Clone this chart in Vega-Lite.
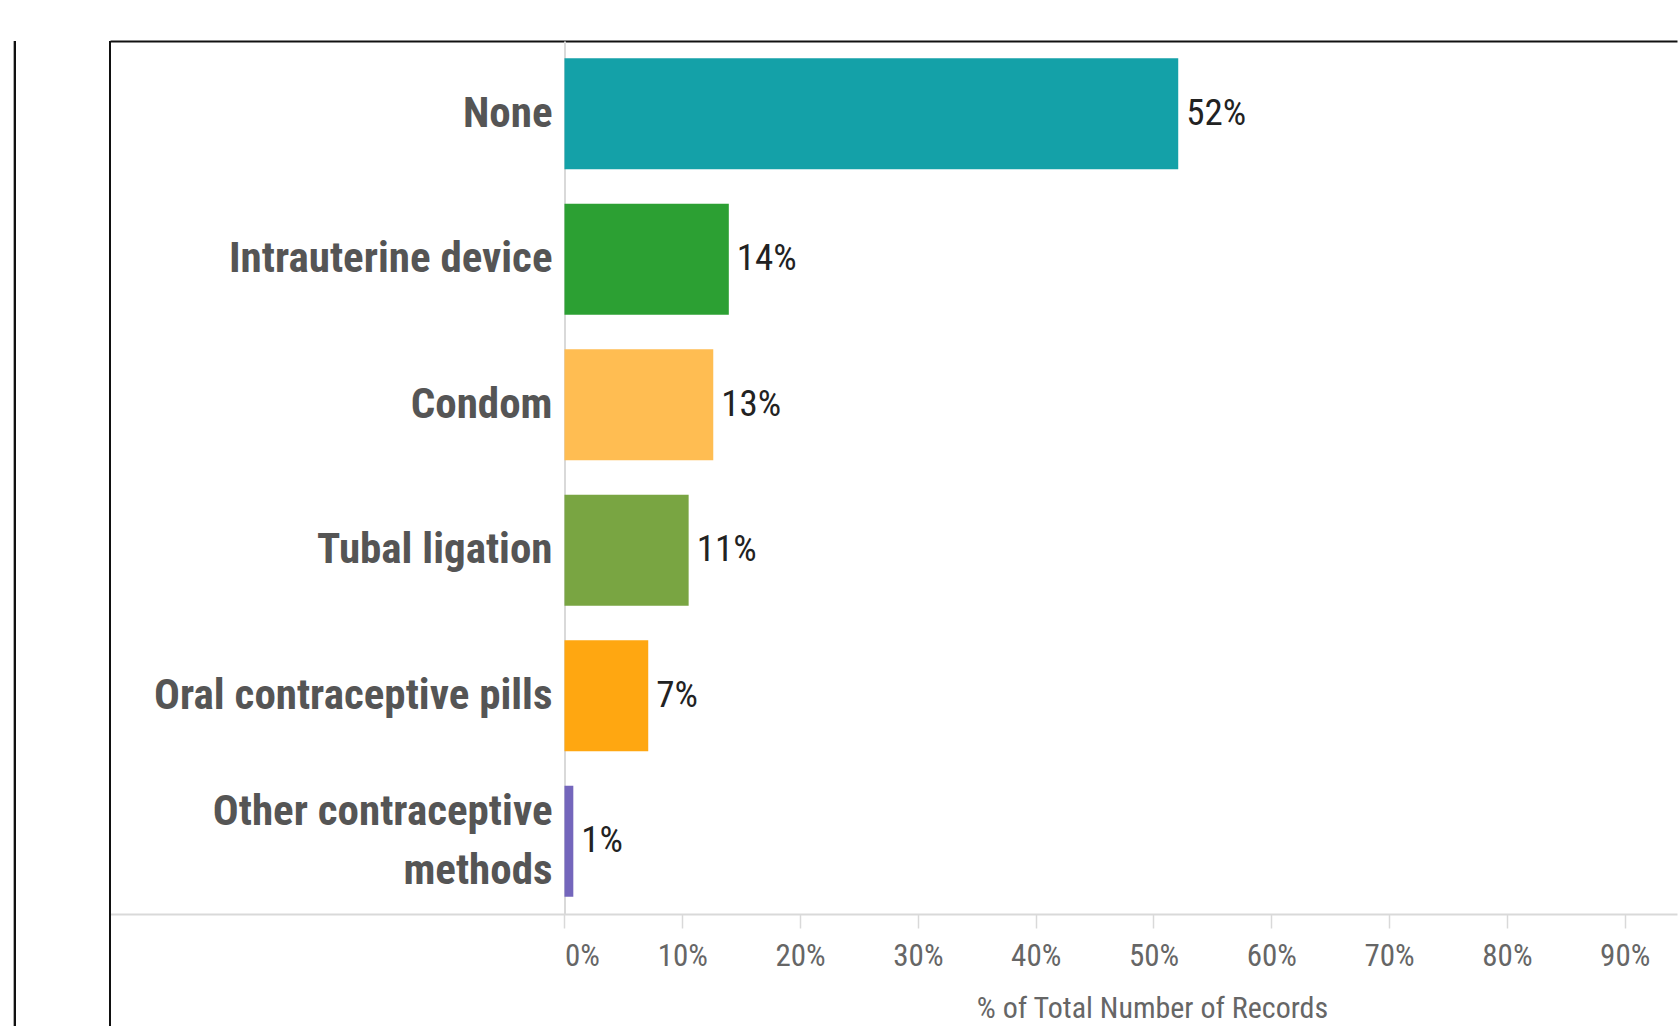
{
  "$schema": "https://vega.github.io/schema/vega-lite/v6.json",
  "width": 1567,
  "height": 985,
  "autosize": {"type": "none"},
  "padding": {"left": 110, "top": 41, "right": 1, "bottom": 0},
  "background": "white",
  "config": {"view": {"stroke": null}, "font": "Roboto Condensed, Roboto, sans-serif"},
  "data": {
    "values": [
      {"method": "None", "label": "None", "share": 0.521},
      {"method": "Intrauterine device", "label": "Intrauterine device", "share": 0.1395},
      {"method": "Condom", "label": "Condom", "share": 0.1263},
      {"method": "Tubal ligation", "label": "Tubal ligation", "share": 0.1054},
      {"method": "Oral contraceptive pills", "label": "Oral contraceptive pills", "share": 0.0711},
      {"method": "Other contraceptive methods", "label": "Other contraceptive\nmethods", "share": 0.0075}
    ]
  },
  "layer": [
    {
      "mark": {"type": "bar"},
      "encoding": {
        "y": {
          "field": "method", "type": "nominal", "sort": null,
          "scale": {"range": [0, 873], "paddingInner": 0.236, "paddingOuter": 0.118},
          "axis": {"orient": "left", "offset": -454.5, "domain": true, "domainColor": "#d9d9d9", "domainWidth": 2, "ticks": false, "labels": false, "grid": false, "title": null}
        },
        "x": {
          "field": "share", "type": "quantitative",
          "scale": {"domain": [-0.3858, 0.9444], "nice": false, "zero": false},
          "axis": {
            "orient": "bottom",
            "offset": -112,
            "values": [0, 0.1, 0.2, 0.3, 0.4, 0.5, 0.6, 0.7, 0.8, 0.9],
            "format": ".0%",
            "domain": true, "domainColor": "#d9d9d9", "domainWidth": 2,
            "ticks": true, "tickColor": "#d9d9d9", "tickSize": 14, "tickWidth": 1.5,
            "grid": false,
            "labelFont": "Roboto Condensed, Roboto, sans-serif",
            "labelFontSize": 31,
            "labelColor": "#666666",
            "labelPadding": 13,
            "labelBaseline": "top",
            "labelAlign": {"condition": {"test": "datum.value === 0", "value": "left"}, "value": "center"},
            "labelFlush": false,
            "labelOverlap": false,
            "labelBound": false,
            "title": "% of Total Number of Records",
            "titleFont": "Roboto Condensed, Roboto, sans-serif",
            "titleFontSize": 30,
            "titleFontWeight": "normal",
            "titleColor": "#666666",
            "titleX": 1042,
            "titleY": 103,
            "titleAlign": "center",
            "titleBaseline": "alphabetic",
            "titleAnchor": null
          }
        },
        "color": {
          "field": "method", "type": "nominal",
          "scale": {
            "domain": ["None", "Intrauterine device", "Condom", "Tubal ligation", "Oral contraceptive pills", "Other contraceptive methods"],
            "range": ["#14A1A8", "#2CA033", "#FFBD52", "#79A542", "#FFA711", "#7466BC"]
          },
          "legend": null
        }
      }
    },
    {
      "mark": {"type": "text", "align": "left", "baseline": "middle", "dx": 8, "fontSize": 37, "color": "#222222", "font": "Roboto Condensed, Roboto, sans-serif"},
      "encoding": {
        "y": {"field": "method", "type": "nominal", "sort": null, "axis": null},
        "x": {"field": "share", "type": "quantitative", "axis": null},
        "text": {"field": "share", "type": "quantitative", "format": ".0%"}
      }
    },
    {
      "transform": [{"filter": "indexof(datum.label, '\\n') < 0"}],
      "mark": {"type": "text", "align": "right", "baseline": "middle", "dx": -12, "fontSize": 43, "fontWeight": "bold", "color": "#555555", "font": "Roboto Condensed, Roboto, sans-serif"},
      "encoding": {
        "y": {"field": "method", "type": "nominal", "sort": null, "axis": null},
        "x": {"datum": 0, "type": "quantitative", "axis": null},
        "text": {"field": "label", "type": "nominal"}
      }
    },
    {
      "transform": [{"filter": "indexof(datum.label, '\\n') >= 0"}],
      "mark": {"type": "text", "align": "right", "baseline": "middle", "dx": -12, "dy": -29.5, "fontSize": 43, "fontWeight": "bold", "color": "#555555", "lineBreak": "\n", "lineHeight": 59, "font": "Roboto Condensed, Roboto, sans-serif"},
      "encoding": {
        "y": {"field": "method", "type": "nominal", "sort": null, "axis": null},
        "x": {"datum": 0, "type": "quantitative", "axis": null},
        "text": {"field": "label", "type": "nominal"}
      }
    },
    {
      "mark": {"type": "rule", "color": "#111111", "strokeWidth": 2},
      "encoding": {
        "x": {
          "datum": -0.3858, "type": "quantitative",
          "axis": {"orient": "top", "domain": true, "domainColor": "#111111", "domainWidth": 2, "ticks": false, "labels": false, "grid": false, "title": null}
        }
      }
    },
    {
      "mark": {"type": "rule", "color": "#111111", "strokeWidth": 2},
      "encoding": {
        "x": {"datum": -0.4665, "type": "quantitative", "axis": null}
      }
    }
  ],
  "resolve": {"axis": {"x": "independent", "y": "independent"}}
}
